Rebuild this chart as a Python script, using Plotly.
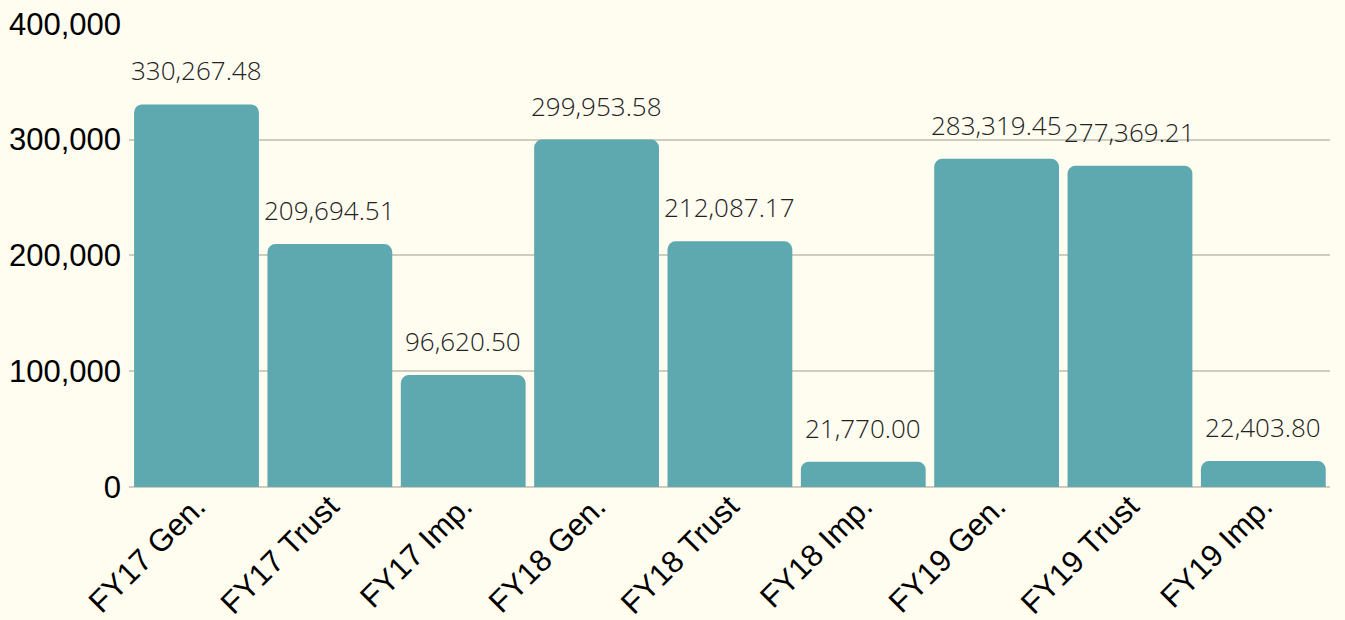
import plotly.graph_objects as go

categories = ["FY17 Gen.", "FY17 Trust", "FY17 Imp.", "FY18 Gen.", "FY18 Trust",
              "FY18 Imp.", "FY19 Gen.", "FY19 Trust", "FY19 Imp."]
values = [330267.48, 209694.51, 96620.50, 299953.58, 212087.17,
          21770.00, 283319.45, 277369.21, 22403.80]
y_ticks = [0, 100000, 200000, 300000, 400000]
y_tick_labels = ["0", "100,000", "200,000", "300,000", "400,000"]

bg = "#FFFCF0"
fig = go.Figure(go.Bar(
    x=categories, y=values,
    marker=dict(color="#5EA8B0", line=dict(width=0)),
))
for c, v in zip(categories, values):
    fig.add_annotation(x=c, y=v, text=f"{v:,.2f}", showarrow=False,
                       yanchor="bottom", yshift=14,
                       font=dict(family="Open Sans", size=26, color="#222222", weight=300))

fig.update_layout(
    width=1345, height=620,
    paper_bgcolor=bg, plot_bgcolor=bg,
    margin=dict(l=129, r=15, t=23, b=133),
    bargap=0.064, barcornerradius=8,
    showlegend=False,
    xaxis=dict(tickangle=-45, tickfont=dict(family="Liberation Sans", size=31, color="#000"),
               showgrid=False, ticks="", showline=False, automargin=False,
               ticklabelstandoff=-6),
    yaxis=dict(range=[0, 400600], tickvals=y_ticks, ticktext=y_tick_labels,
               tickfont=dict(family="Liberation Sans", size=31, color="#000"),
               gridcolor="#CFCCC0", gridwidth=1.5, zeroline=True, zerolinecolor="#CFCCC0",
               zerolinewidth=1.5, ticklabelstandoff=7, automargin=False),
)
fig.write_html("out.html", config={"displayModeBar": False},
               post_script="document.body.style.margin='0';document.body.style.background='#FFFCF0';document.body.style.overflow='hidden';")
